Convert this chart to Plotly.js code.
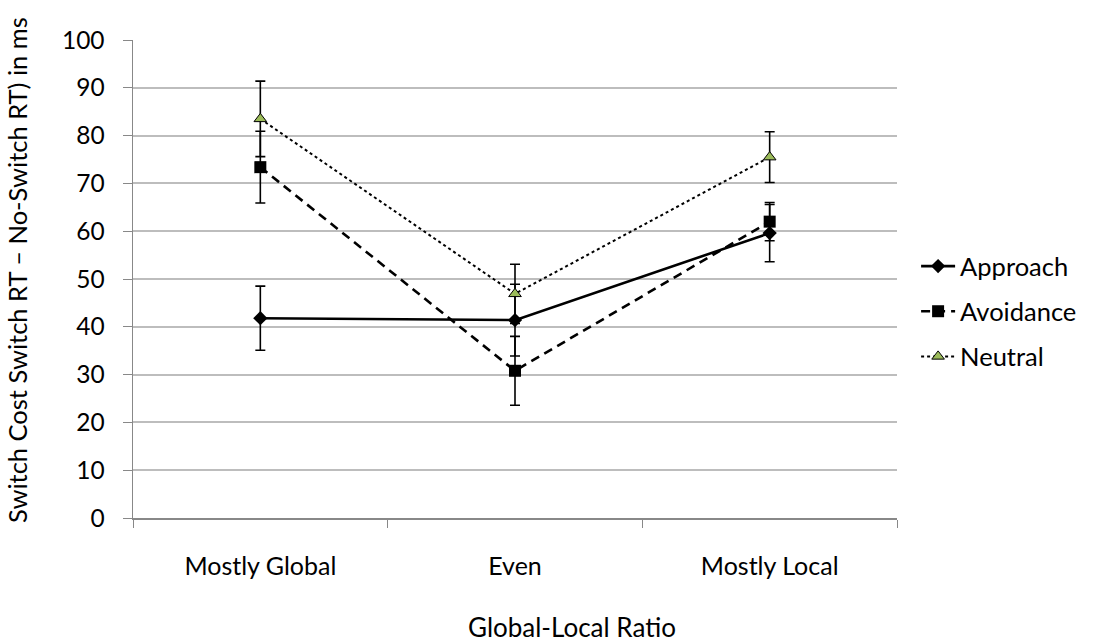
<!DOCTYPE html>
<html>
<head>
<meta charset="utf-8">
<script src="https://cdn.plot.ly/plotly-3.0.1.min.js"></script>
<style>html,body{margin:0;padding:0;background:#fff;}#chart{width:1097px;height:643px;}</style>
</head>
<body>
<div id="chart"></div>
<script>
const categories = ["Mostly Global", "Even", "Mostly Local"];
const approach = [41.8, 41.4, 59.6];
const approachErr = [6.7, 7.5, 6.0];
const avoidance = [73.4, 30.8, 62.0];
const avoidanceErr = [7.5, 7.2, 4.0];
const neutral = [83.5, 46.9, 75.5];
const neutralErr = [7.9, 6.2, 5.3];
const yTicks = [0, 10, 20, 30, 40, 50, 60, 70, 80, 90, 100];
const xTitle = 'Global-Local Ratio';
const yTitle = 'Switch Cost Switch RT \u2013 No-Switch RT) in ms';

const font = "Lato, 'Open Sans', sans-serif";

function errY(arr) {
  return {type: 'data', array: arr, visible: true, color: '#000', thickness: 1.6, width: 5};
}

const traces = [
  {
    x: categories, y: approach, name: 'Approach', legendgroup: 'a', type: 'scatter', mode: 'lines+markers',
    line: {color: '#000', width: 2.6, dash: 'solid'},
    marker: {symbol: 'diamond', size: 11, color: '#000'},
    error_y: errY(approachErr)
  },
  {
    x: categories, y: avoidance, name: 'Avoidance', legendgroup: 'b', type: 'scatter', mode: 'lines+markers',
    line: {color: '#000', width: 2.6, dash: '9px,6px'},
    marker: {symbol: 'square', size: 12, color: '#000'},
    error_y: errY(avoidanceErr)
  },
  {
    x: categories, y: neutral, name: 'Neutral', legendgroup: 'c', type: 'scatter', mode: 'lines+markers',
    line: {color: '#000', width: 2, dash: 'dot'},
    marker: {symbol: 'triangle-up', size: 11, color: '#9bbb59', line: {color: '#000', width: 1}},
    error_y: errY(neutralErr)
  }
];

const layout = {
  width: 1097, height: 643,
  margin: {l: 133, r: 200, t: 40, b: 125},
  paper_bgcolor: '#fff', plot_bgcolor: '#fff',
  font: {family: font, size: 25, color: '#000'},
  showlegend: true,
  legend: {
    x: 1.025, xanchor: 'left', y: 0.432, yanchor: 'middle',
    font: {family: font, size: 25.5, color: '#000'},
    itemwidth: 34, tracegroupgap: 9, bgcolor: 'rgba(0,0,0,0)'
  },
  xaxis: {
    type: 'category', range: [-0.5, 2.5],
    showgrid: false, showline: true, linecolor: '#888', linewidth: 1.5,
    ticks: 'outside', tickson: 'boundaries', ticklen: 8, tickcolor: '#888',
    ticklabelstandoff: 25,
    tickfont: {family: font, size: 25, color: '#000'},
    automargin: false
  },
  yaxis: {
    range: [0, 100], tickvals: yTicks, ticktext: yTicks.map(String),
    showgrid: true, gridcolor: '#bdbdbd', gridwidth: 2,
    showline: true, linecolor: '#888', linewidth: 1.5,
    ticks: 'outside', ticklen: 9, tickcolor: '#888',
    ticklabelstandoff: 13,
    zeroline: false,
    tickfont: {family: font, size: 24.5, color: '#000'},
    automargin: false
  },
  annotations: [
    {
      text: xTitle, xref: 'paper', yref: 'paper', x: 0.5, y: 0,
      xanchor: 'center', yanchor: 'middle', xshift: 57, yshift: -109,
      showarrow: false, font: {family: font, size: 26, color: '#000'}
    },
    {
      text: yTitle, xref: 'paper', yref: 'paper', x: 0, y: 0.5,
      xanchor: 'center', yanchor: 'middle', xshift: -116, yshift: 9, textangle: -90,
      showarrow: false, font: {family: font, size: 25.5, color: '#000'}
    }
  ]
};

Plotly.newPlot('chart', traces, layout, {displayModeBar: false, staticPlot: true});
</script>
</body>
</html>
